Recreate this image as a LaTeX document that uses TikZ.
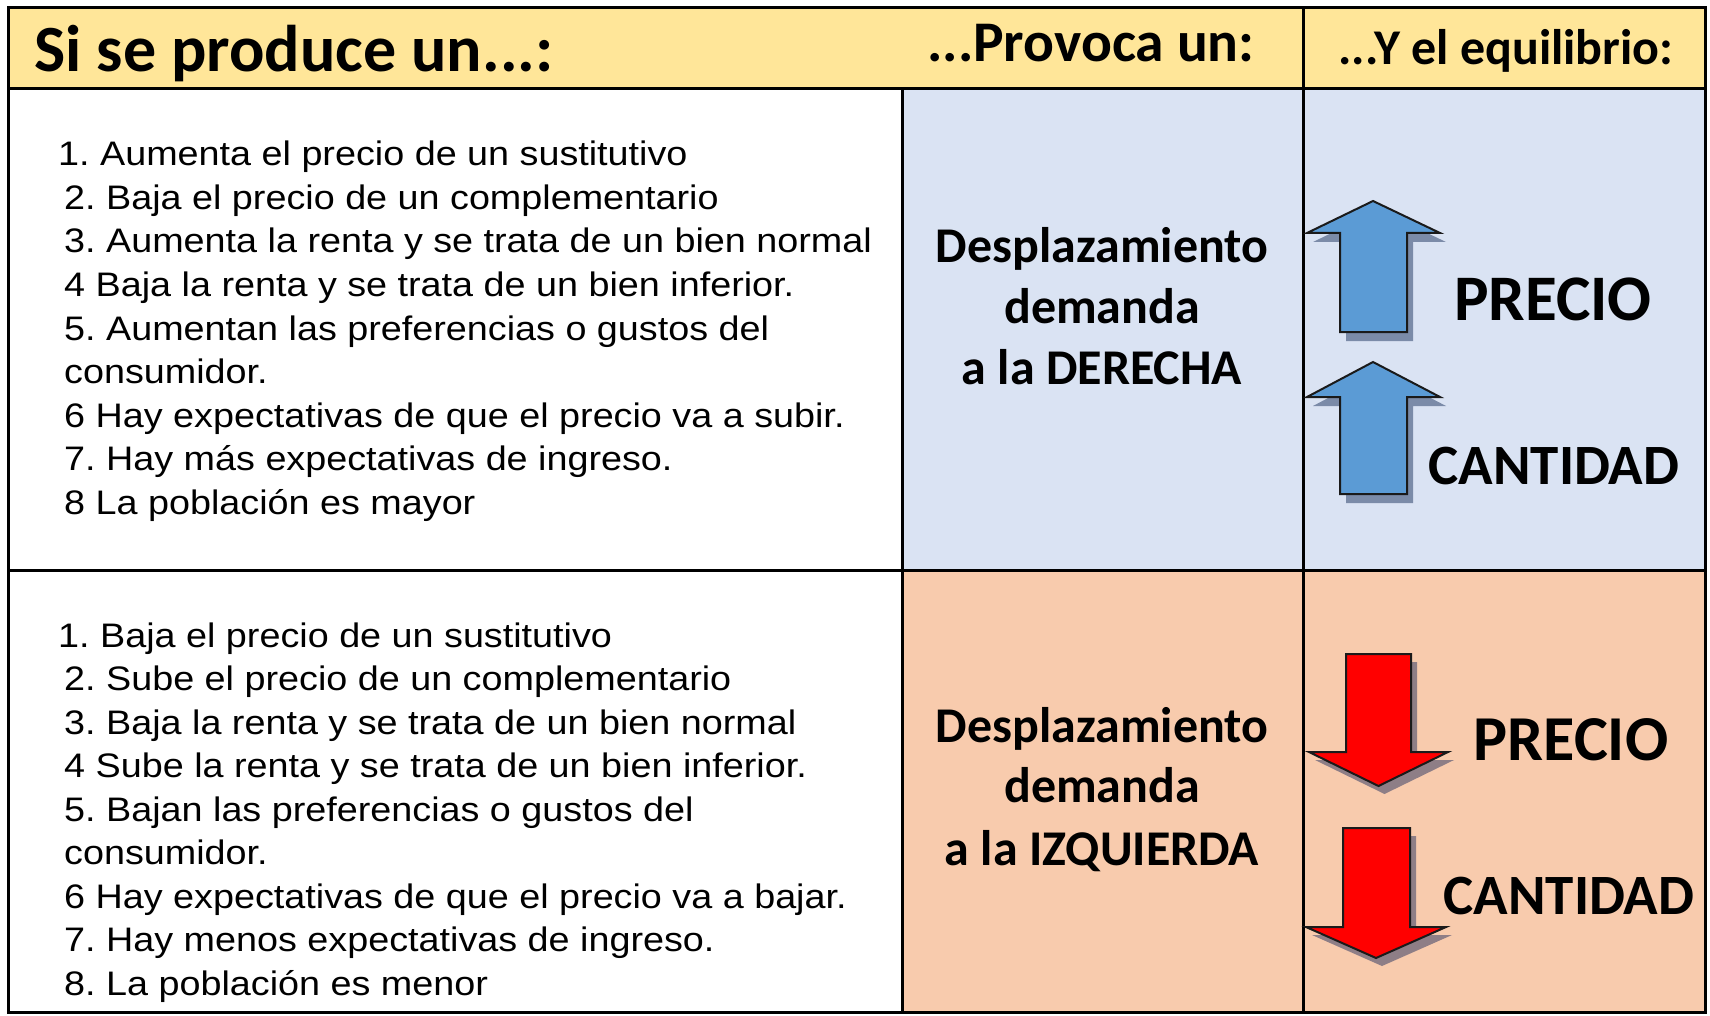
\documentclass[tikz,border=0pt]{standalone}
\usepackage{fontspec}
\newfontfamily\calfont{Carlito}
\newfontfamily\arialx[FakeStretch=1.11]{Liberation Sans}
\definecolor{hdrYellow}{HTML}{FFE699}
\definecolor{cellBlue}{HTML}{DAE3F3}
\definecolor{cellOrange}{HTML}{F8CBAD}
\definecolor{arrBlue}{HTML}{5B9BD5}
\definecolor{arrRed}{HTML}{FF0000}
\definecolor{shBlue}{HTML}{7B8BA8}
\definecolor{shRed}{HTML}{8E7E86}
\definecolor{arrLine}{HTML}{1A1A1A}
\frenchspacing
\begin{document}
\begin{tikzpicture}[x=1pt,y=-1pt,
  lefttext/.style={anchor=base west, inner sep=0pt, font=\arialx\fontsize{34}{40}\selectfont},
  boldtext/.style={anchor=base, inner sep=0pt, font=\calfont\bfseries\fontsize{#1}{#1}\selectfont},
  grid/.style={line width=3pt, black},
  arrowbody/.style={draw=arrLine, line width=2pt, line join=miter},
]
% bounding box / background
\fill[white] (0,0) rectangle (1710,1016);
\useasboundingbox (0,0) rectangle (1710,1016);

% cell fills
\fill[hdrYellow] (8,8) rectangle (1705,89);
\fill[cellBlue] (902,89) rectangle (1705,570);
\fill[cellOrange] (902,570) rectangle (1705,1012);

% grid
\draw[grid] (8,8) rectangle (1705,1012);
\draw[grid] (8,89) -- (1705,89);
\draw[grid] (8,570) -- (1705,570);
\draw[grid] (1303,8) -- (1303,1012);
\draw[grid] (902,89) -- (902,1012);

% header texts
\node[boldtext=66] (h1) at (294,72) {Si se produce un...:};
\node[boldtext=57.5] (h2) at (1091,62) {...Provoca un:};
\node[boldtext=50] (h3) at (1506,65) {...Y el equilibrio:};

% upper left list
\node[lefttext] (u0) at (58,166) {1. Aumenta el precio de un sustitutivo};
\foreach \t [count=\i] in {
  2. Baja el precio de un complementario,
  3. Aumenta la renta y se trata de un bien normal,
  4 Baja la renta y se trata de un bien inferior.,
  5. Aumentan las preferencias o gustos del,
  consumidor.,
  6 Hay expectativas de que el precio va a subir.,
  7. Hay más expectativas de ingreso.,
  8 La población es mayor}
  \node[lefttext] (u\i) at (64,166+43.5*\i) {\t};

% lower left list
\node[lefttext] (l0) at (58,647) {1. Baja el precio de un sustitutivo};
\foreach \t [count=\i] in {
  2. Sube el precio de un complementario,
  3. Baja la renta y se trata de un bien normal,
  4 Sube la renta y se trata de un bien inferior.,
  5. Bajan las preferencias o gustos del,
  consumidor.,
  6 Hay expectativas de que el precio va a bajar.,
  7. Hay menos expectativas de ingreso.,
  8. La población es menor}
  \node[lefttext] (l\i) at (64,647+43.5*\i) {\t};

% middle column texts
\node[boldtext=50] (m1) at (1102,262) {Desplazamiento};
\node[boldtext=50] (m2) at (1102,323) {demanda};
\node[boldtext=50] (m3) at (1102,384) {a la DERECHA};
\node[boldtext=50] (n1) at (1102,742) {Desplazamiento};
\node[boldtext=50] (n2) at (1102,802) {demanda};
\node[boldtext=50] (n3) at (1102,865) {a la IZQUIERDA};

% blue up arrows (shadow then body)
\begin{scope}[shift={(6,9)}]
  \fill[shBlue] (1340,332) -- (1340,233) -- (1307,233) -- (1373,201) -- (1440,233) -- (1407,233) -- (1407,332) -- cycle;
  \fill[shBlue] (1340,494) -- (1340,397) -- (1307,397) -- (1373,362) -- (1440,397) -- (1407,397) -- (1407,494) -- cycle;
\end{scope}
\filldraw[arrowbody, fill=arrBlue] (1340,332) -- (1340,233) -- (1307,233) -- (1373,201) -- (1440,233) -- (1407,233) -- (1407,332) -- cycle;
\filldraw[arrowbody, fill=arrBlue] (1340,494) -- (1340,397) -- (1307,397) -- (1373,362) -- (1440,397) -- (1407,397) -- (1407,494) -- cycle;

% red down arrows
\begin{scope}[shift={(6,8)}]
  \fill[shRed] (1346,654) -- (1346,752) -- (1309,752) -- (1378.5,786) -- (1448,752) -- (1411,752) -- (1411,654) -- cycle;
  \fill[shRed] (1343,828) -- (1343,927) -- (1306,927) -- (1376,958) -- (1446,927) -- (1410,927) -- (1410,828) -- cycle;
\end{scope}
\filldraw[arrowbody, fill=arrRed] (1346,654) -- (1346,752) -- (1309,752) -- (1378.5,786) -- (1448,752) -- (1411,752) -- (1411,654) -- cycle;
\filldraw[arrowbody, fill=arrRed] (1343,828) -- (1343,927) -- (1306,927) -- (1376,958) -- (1446,927) -- (1410,927) -- (1410,828) -- cycle;

% right column labels
\node[boldtext=65] (p1) at (1553,320) {PRECIO};
\node[boldtext=57] (c1) at (1554,484) {CANTIDAD};
\node[boldtext=64] (p2) at (1571,760) {PRECIO};
\node[boldtext=57] (c2) at (1569,914) {CANTIDAD};
\end{tikzpicture}
\end{document}
